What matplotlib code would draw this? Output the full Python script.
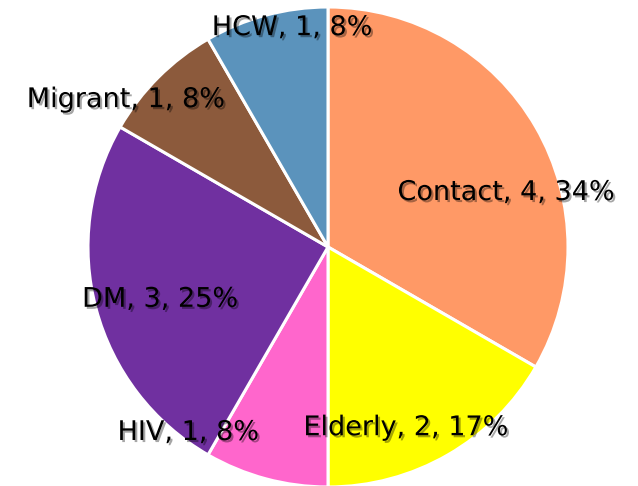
import matplotlib
matplotlib.use('Agg')
import matplotlib.pyplot as plt
import matplotlib.patheffects as pe

groups = ['Contact', 'Elderly', 'HIV', 'DM', 'Migrant', 'HCW']
counts = [4, 2, 1, 3, 1, 1]
pcts = ['34%', '17%', '8%', '25%', '8%', '8%']
colors = ['#FF9966', '#FFFF00', '#FF66CC', '#7030A0', '#8C5A3C', '#5B93BC']

# label centres (data units, pie radius = 1)
label_pos = [(0.742, 0.225), (0.325, -0.755), (-0.583, -0.775),
             (-0.70, -0.22), (-0.842, 0.612), (-0.15, 0.912)]

fig = plt.figure(figsize=(6.38, 4.86), dpi=100)
ax = fig.add_axes([0, 0, 1, 1])
ax.pie(counts, colors=colors, startangle=90, counterclock=False,
       wedgeprops=dict(edgecolor='white', linewidth=2.2))

shadow = [pe.SimplePatchShadow(offset=(1.5, -1.5), shadow_rgbFace='black', alpha=0.35),
          pe.Normal()]
for g, c, p, (x, y) in zip(groups, counts, pcts, label_pos):
    ax.text(x, y, f'{g}, {c}, {p}', ha='center', va='center', fontsize=19.5,
            color='black', path_effects=shadow)

ax.set_xlim(-328 / 240, (638 - 328) / 240)
ax.set_ylim((247 - 486) / 240, 247 / 240)
ax.set_aspect('equal')
ax.axis('off')
fig.savefig('out.png', dpi=100)
